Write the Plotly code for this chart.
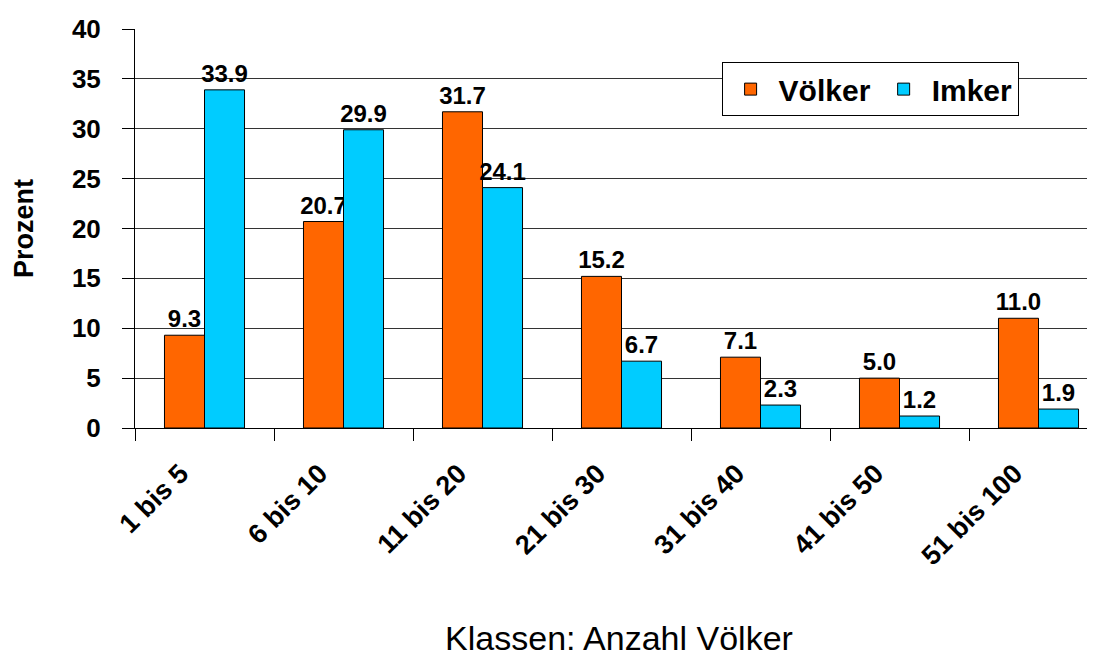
import plotly.graph_objects as go

categories = ["1 bis 5", "6 bis 10", "11 bis 20", "21 bis 30", "31 bis 40", "41 bis 50", "51 bis 100"]
voelker = [9.3, 20.7, 31.7, 15.2, 7.1, 5.0, 11.0]
imker = [33.9, 29.9, 24.1, 6.7, 2.3, 1.2, 1.9]
y_ticks = [0, 5, 10, 15, 20, 25, 30, 35, 40]

FONT = "Arial, Liberation Sans, sans-serif"

fig = go.Figure()
fig.add_trace(go.Bar(
    x=categories, y=voelker, name="Völker",
    marker=dict(color="#FF6600", line=dict(color="black", width=1)),
    text=[f"{v:.1f}" for v in voelker], textposition="outside",
    constraintext="none",
    textfont=dict(family=FONT, size=24, color="black", weight="bold"),
    cliponaxis=False,
))
fig.add_trace(go.Bar(
    x=categories, y=imker, name="Imker",
    marker=dict(color="#00CCFF", line=dict(color="black", width=1)),
    text=[f"{v:.1f}" for v in imker], textposition="outside",
    constraintext="none",
    textfont=dict(family=FONT, size=24, color="black", weight="bold"),
    cliponaxis=False,
))

fig.update_layout(
    width=1095, height=665,
    margin=dict(l=127, r=0, t=21, b=245, autoexpand=False),
    paper_bgcolor="white", plot_bgcolor="white",
    barmode="group", bargap=0.424, bargroupgap=0,
    font=dict(family=FONT, color="black"),
    legend=dict(
        orientation="h", x=0.606, y=0.917, xanchor="left", yanchor="top",
        bgcolor="white", bordercolor="black", borderwidth=1,
        font=dict(family=FONT, size=30, color="black", weight="bold"),
        itemwidth=46,
    ),
    xaxis=dict(
        type="category", range=[-0.5, 6.464],
        tickangle=-45, tickson="boundaries",
        ticks="outside", ticklen=12, tickcolor="black", tickwidth=1,
        showline=True, linecolor="black", linewidth=1,
        tickfont=dict(family=FONT, size=27, color="black", weight="bold"),
        ticklabelstandoff=18, ticklabelshift=-24,
        title=dict(text="Klassen: Anzahl Völker", font=dict(family=FONT, size=34, color="black"), standoff=56),
        showgrid=False,
    ),
    yaxis=dict(
        range=[0, 40], tickvals=y_ticks,
        ticks="outside", ticklen=12, tickcolor="black", tickwidth=1,
        showline=True, linecolor="black", linewidth=1,
        showgrid=True, gridcolor="#333333", gridwidth=1,
        zeroline=False,
        tickfont=dict(family=FONT, size=26, color="black", weight="bold"),
        ticklabelstandoff=16,
        title=dict(text="Prozent", font=dict(family=FONT, size=27, color="black", weight="bold"), standoff=30),
    ),
)

fig.write_html("out.html")
